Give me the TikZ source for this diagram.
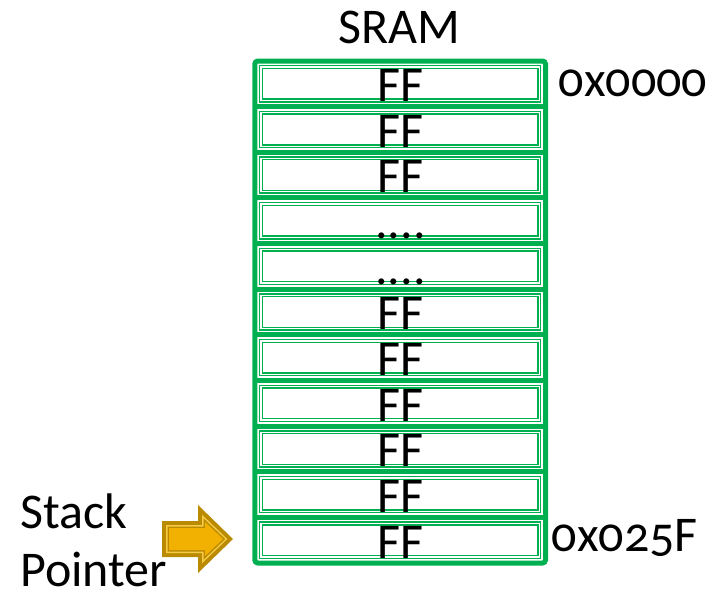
\documentclass[tikz,border=0pt]{standalone}
\usepackage{fontspec}
\setmainfont{Carlito}[Numbers=OldStyle]
\definecolor{sgreen}{HTML}{00B050}
\definecolor{gdark}{HTML}{BA8B00}
\definecolor{gbright}{HTML}{F2B000}
\definecolor{glight}{HTML}{F7CB45}
\newcommand\celldots{....}
\begin{document}
\begin{tikzpicture}[x=1pt,y=-1pt,
  lbl/.style={inner sep=0pt, font=\fontsize{50}{60}\selectfont},
  cellframe/.style={draw=sgreen, line width=1.4pt, double=white, double distance=1.3pt},
  sepline/.style={draw=sgreen, line width=5pt}]
\useasboundingbox (0,0) rectangle (715,592);
% cells
\foreach \t [count=\i from 0] in {FF,FF,FF,\celldots,\celldots,FF,FF,FF,FF,FF,FF} {
  \pgfmathsetmacro\ctop{61+45.64*\i}
  \pgfmathsetmacro\cbot{\ctop+45.64}
  \draw[cellframe] (260.9,\ctop+6.1) rectangle (539.4,\cbot-6.1);
  \node[lbl, anchor=base] (c\i) at (400.5,\cbot-5) {\t};
}
\foreach \i in {1,...,10} {
  \draw[sepline] (254.8,61+45.64*\i) -- (545.5,61+45.64*\i);
}
\draw[sepline, rounded corners=3pt] (254.8,61) rectangle (545.5,563);
% labels
\node[lbl, anchor=base] (title) at (399,43) {SRAM};
\node[lbl, anchor=base west] (addr0) at (558.5,96) {0x0000};
\node[lbl, anchor=base west] (addr1) at (551.5,551) {0x025F};
\node[lbl, anchor=base west] (sp1) at (20,528) {Stack};
\node[lbl, anchor=base west] (sp2) at (20,586) {Pointer};
% stack pointer arrow
\fill[gdark] (162,521) -- (198,521) -- (198,505) -- (233,539) -- (198,573) -- (198,557) -- (162,557) -- cycle;
\fill[glight] (166,525) -- (202,525) -- (202,514.7) -- (227.3,539) -- (202,563.3) -- (202,553) -- (166,553) -- cycle;
\fill[gdark] (167.5,526.5) -- (203.5,526.5) -- (203.5,518.3) -- (225.2,539) -- (203.5,559.7) -- (203.5,551.5) -- (167.5,551.5) -- cycle;
\fill[gbright] (169,528) -- (205,528) -- (205,521.9) -- (223.1,539) -- (205,556.1) -- (205,550) -- (169,550) -- cycle;
\end{tikzpicture}
\end{document}
